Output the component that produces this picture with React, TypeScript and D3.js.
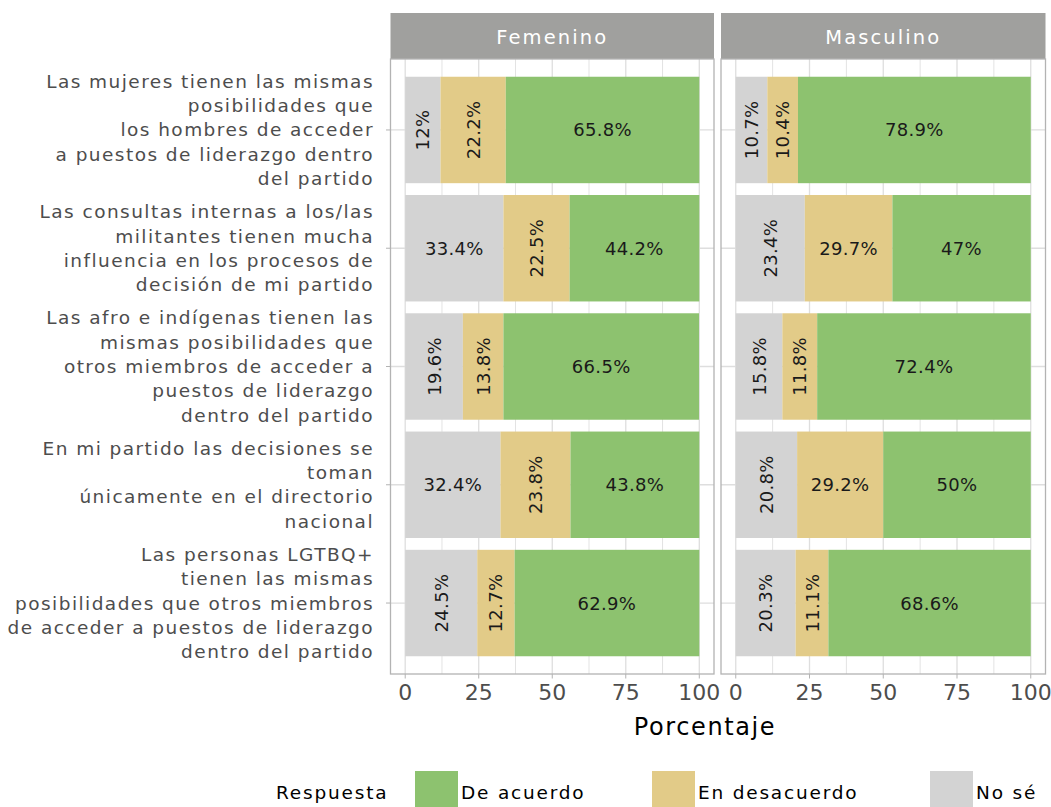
import React from 'react';
import * as d3 from 'd3';

const statements: string[][] = [
  ['Las mujeres tienen las mismas', 'posibilidades que', 'los hombres de acceder', 'a puestos de liderazgo dentro', 'del partido'],
  ['Las consultas internas a los/las', 'militantes tienen mucha', 'influencia en los procesos de', 'decisión de mi partido'],
  ['Las afro e indígenas tienen las', 'mismas posibilidades que', 'otros miembros de acceder a', 'puestos de liderazgo', 'dentro del partido'],
  ['En mi partido las decisiones se', 'toman', 'únicamente en el directorio', 'nacional'],
  ['Las personas LGTBQ+', 'tienen las mismas', 'posibilidades que otros miembros', 'de acceder a puestos de liderazgo', 'dentro del partido'],
];
const genders = ['Femenino', 'Masculino'];
const responses = ['No sé', 'En desacuerdo', 'De acuerdo'];
const legendOrder = ['De acuerdo', 'En desacuerdo', 'No sé'];
const responseColors = ['#d3d3d3', '#e2cb88', '#8dc26f'];

const noSeFem = [12, 33.4, 19.6, 32.4, 24.5];
const desFem = [22.2, 22.5, 13.8, 23.8, 12.7];
const acuFem = [65.8, 44.2, 66.5, 43.8, 62.9];
const noSeMasc = [10.7, 23.4, 15.8, 20.8, 20.3];
const desMasc = [10.4, 29.7, 11.8, 29.2, 11.1];
const acuMasc = [78.9, 47, 72.4, 50, 68.6];
const xTicks = [0, 25, 50, 75, 100];
const xMinor = [12.5, 37.5, 62.5, 87.5];

const seriesByGender = [
  [noSeFem, desFem, acuFem],
  [noSeMasc, desMasc, acuMasc],
];

const FONT = 'DejaVu Sans';

export default function App() {
  const W = 1051, H = 807;
  const panelTop = 59, panelBottom = 674, stripTop = 13;
  const panels = [
    { x0: 390.5, x1: 714 },
    { x0: 721, x1: 1045.5 },
  ];
  const y = d3.scalePoint<number>().domain(d3.range(statements.length)).range([panelTop, panelBottom]).padding(0.6);
  const barH = y.step() * 0.9;
  const colorScale = d3.scaleOrdinal<string, string>().domain(responses).range(responseColors);

  return (
    <svg width={W} height={H} style={{ position: 'absolute', left: 0, top: 0, background: '#fff' }} fontFamily={FONT}>
      {/* y axis labels */}
      {statements.map((lines, i) => {
        const lh = 24.3;
        const cy = y(i)!;
        const start = cy - ((lines.length - 1) * lh) / 2;
        return (
          <g key={'yl' + i}>
            {lines.map((l, j) => (
              <text key={j} x={374} y={start + j * lh} textAnchor="end" dominantBaseline="central" fontSize={18.5} letterSpacing={1.45} fill="#4d4d4d">{l}</text>
            ))}
            <line x1={386} x2={390.5} y1={cy} y2={cy} stroke="#b3b3b3" strokeWidth={1} />
          </g>
        );
      })}
      {panels.map((p, gi) => {
        const x = d3.scaleLinear().domain([-5, 105]).range([p.x0, p.x1]);
        const series = seriesByGender[gi];
        return (
          <g key={'p' + gi}>
            <rect x={p.x0} y={stripTop} width={p.x1 - p.x0} height={panelTop - stripTop} fill="#a0a09e" />
            <text x={(p.x0 + p.x1) / 2} y={(stripTop + panelTop) / 2 + 1} textAnchor="middle" dominantBaseline="central" fill="#fff" fontSize={19.5} letterSpacing={2.1}>{genders[gi]}</text>
            <rect x={p.x0} y={panelTop} width={p.x1 - p.x0} height={panelBottom - panelTop} fill="#fff" />
            {xMinor.map((t) => (
              <line key={'mn' + t} x1={x(t)} x2={x(t)} y1={panelTop} y2={panelBottom} stroke="#e3e3e3" strokeWidth={1} />
            ))}
            {xTicks.map((t) => (
              <line key={'mj' + t} x1={x(t)} x2={x(t)} y1={panelTop} y2={panelBottom} stroke="#dedede" strokeWidth={1.3} />
            ))}
            {statements.map((_, i) => (
              <line key={'hg' + i} x1={p.x0} x2={p.x1} y1={y(i)!} y2={y(i)!} stroke="#dedede" strokeWidth={1.3} />
            ))}
            {statements.map((_, i) => {
              let cum = 0;
              return (
                <g key={'bar' + i}>
                  {responses.map((r, k) => {
                    const v = series[k][i];
                    const a = cum;
                    cum += v;
                    const xa = x(a), xb = x(Math.min(cum, 100));
                    const cx = (xa + xb) / 2;
                    const cy = y(i)!;
                    const rotate = v < 25;
                    return (
                      <g key={r}>
                        <rect x={xa} y={cy - barH / 2} width={xb - xa} height={barH} fill={colorScale(r)} />
                        <text x={cx} y={cy} textAnchor="middle" dominantBaseline="central" fontSize={18} letterSpacing={0.3} fill="#1a1a1a"
                          transform={rotate ? `rotate(-90 ${cx} ${cy})` : undefined}>{`${v}%`}</text>
                      </g>
                    );
                  })}
                </g>
              );
            })}
            <rect x={p.x0} y={panelTop} width={p.x1 - p.x0} height={panelBottom - panelTop} fill="none" stroke="#b3b3b3" strokeWidth={1.3} />
            {xTicks.map((t) => (
              <g key={'xt' + t}>
                <line x1={x(t)} x2={x(t)} y1={panelBottom} y2={panelBottom + 4.5} stroke="#b3b3b3" strokeWidth={1} />
                <text x={x(t)} y={panelBottom + 18} textAnchor="middle" dominantBaseline="central" fontSize={22} fill="#4d4d4d">{t}</text>
              </g>
            ))}
          </g>
        );
      })}
      <text x={705} y={727} textAnchor="middle" dominantBaseline="central" fontSize={24} letterSpacing={1.6} fill="#000">Porcentaje</text>
      {/* legend */}
      <text x={276} y={792} dominantBaseline="central" fontSize={18.5} letterSpacing={1.8} fill="#000">Respuesta</text>
      {legendOrder.map((r, k) => {
        const kx = [415, 652, 930][k];
        return (
          <g key={'lg' + r}>
            <rect x={kx} y={771} width={43} height={36} fill={colorScale(r)} />
            <text x={kx + 46} y={792} dominantBaseline="central" fontSize={18.5} letterSpacing={1.8} fill="#000">{r}</text>
          </g>
        );
      })}
    </svg>
  );
}
